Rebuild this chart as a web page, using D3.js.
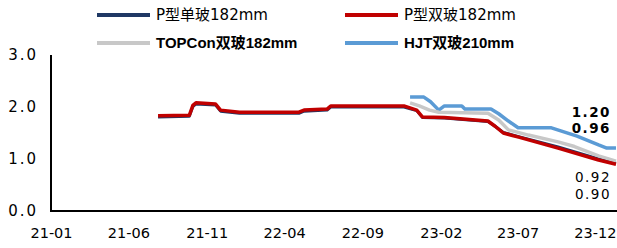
<!DOCTYPE html>
<html><head><meta charset="utf-8">
<script src="https://cdn.jsdelivr.net/npm/d3@7"></script>
<style>
html,body{margin:0;padding:0;background:#fff;}
svg{display:block;font-family:"DejaVu Sans","Noto Sans CJK SC",sans-serif;}
</style></head>
<body><svg id="c" width="617" height="248"></svg>
<script>
const tickLabels = ["2021-01-01","2021-06-01","2021-11-01","2022-04-01","2022-09-01","2023-02-01","2023-07-01","2023-12-01"];
const yTicks = [0, 1, 2, 3];
const seriesNames = ["P型单玻182mm","P型双玻182mm","TOPCon双玻182mm","HJT双玻210mm"];
const seriesColors = ["#1f3864","#c00000","#c8c8c8","#5b9bd5"];

const pMonoDates = ["2021-07-29","2021-09-28","2021-10-05","2021-10-11","2021-11-18","2021-11-28","2022-01-04","2022-04-30","2022-05-10","2022-06-24","2022-07-01","2022-11-21","2022-12-16","2022-12-27","2023-02-08","2023-05-04","2023-05-18","2023-06-03","2023-07-03","2023-09-18","2023-12-06","2024-01-09"];
const pMonoValues = [1.81,1.82,2.01,2.06,2.04,1.92,1.88,1.88,1.92,1.94,2.00,2.00,1.93,1.80,1.79,1.72,1.63,1.51,1.43,1.23,1.00,0.92];

const pBiDates = pMonoDates;
const pBiValues = [1.83,1.84,2.03,2.08,2.06,1.94,1.90,1.90,1.94,1.96,2.02,2.02,1.94,1.81,1.80,1.73,1.63,1.50,1.42,1.21,0.98,0.90];

const topconDates = ["2022-12-03","2022-12-21","2023-01-10","2023-01-28","2023-05-04","2023-05-25","2023-06-13","2023-07-22","2023-09-18","2023-10-20","2023-12-06","2024-01-09"];
const topconValues = [2.08,2.02,1.94,1.90,1.88,1.75,1.56,1.46,1.33,1.24,1.06,0.96];

const hjtDates = ["2022-12-03","2022-12-30","2023-01-12","2023-01-28","2023-02-08","2023-03-14","2023-03-20","2023-05-10","2023-05-25","2023-06-13","2023-07-02","2023-09-05","2023-10-25","2023-12-06","2023-12-22","2024-01-09"];
const hjtValues = [2.19,2.19,2.10,1.94,2.02,2.02,1.96,1.96,1.87,1.73,1.60,1.60,1.44,1.27,1.21,1.21];

const endLabels = ["1.20","0.96","0.92","0.90"];

const parse = d3.timeParse("%Y-%m-%d");
const svg = d3.select("#c");

const x = d3.scaleTime().domain([parse("2021-01-01"), parse("2023-12-01")]).range([51, 596]);
const y = d3.scaleLinear().domain([0, 3]).range([211, 55]);

const series = [
  {dates: pMonoDates, values: pMonoValues},
  {dates: pBiDates, values: pBiValues},
  {dates: topconDates, values: topconValues},
  {dates: hjtDates, values: hjtValues}
].map((s, i) => ({name: seriesNames[i], color: seriesColors[i],
  pts: s.dates.map((d, j) => ({d: parse(d), v: s.values[j]}))}));

const line = d3.line().x(p => x(p.d)).y(p => y(p.v));
const drawOrder = [0, 3, 2, 1];
svg.append("defs").append("clipPath").attr("id","clip").append("rect")
  .attr("x", 51).attr("y", 40).attr("width", 566).attr("height", 180);
const g = svg.append("g").attr("clip-path","url(#clip)");
drawOrder.forEach(i => {
  g.append("path").datum(series[i].pts).attr("d", line)
    .attr("fill","none").attr("stroke", series[i].color)
    .attr("stroke-width", i === 0 ? 3 : 3.5).attr("stroke-linejoin","round");
});

// axes
const xAxis = d3.axisBottom(x).tickValues(tickLabels.map(parse))
  .tickFormat(d3.timeFormat("%y-%m")).tickSize(0).tickPadding(17);
const gx = svg.append("g").attr("transform","translate(0,211)").call(xAxis);
gx.select(".domain").remove();
gx.selectAll("text").attr("font-size", 14.5).attr("fill","#000")
  .attr("font-family","'DejaVu Sans', sans-serif");
gx.selectAll(".tick:last-of-type text").attr("text-anchor","end").attr("x", 20);
svg.append("line").attr("x1", 51).attr("x2", 617).attr("y1", 211).attr("y2", 211)
  .attr("stroke","#000").attr("stroke-width", 2);

const yAxis = d3.axisLeft(y).tickValues(yTicks).tickFormat(d3.format(".1f")).tickSize(0).tickPadding(13);
const gy = svg.append("g").attr("transform","translate(51,0)").call(yAxis);
gy.select(".domain").remove();
gy.selectAll("text").attr("font-size", 15).attr("fill","#000").attr("letter-spacing", 2)
  .attr("font-family","'DejaVu Sans', sans-serif");
svg.append("line").attr("x1", 51).attr("x2", 51).attr("y1", 55).attr("y2", 212)
  .attr("stroke","#000").attr("stroke-width", 2);

// end labels
const endLabelY = [112, 128, 177, 194];
endLabels.forEach((t, i) => {
  svg.append("text").attr("x", 611).attr("y", endLabelY[i]).attr("dy","0.35em")
    .attr("text-anchor","end").attr("font-size", 13.5).attr("letter-spacing", 1.5)
    .attr("fill","#000").attr("font-weight", i < 2 ? "bold" : "normal").text(t);
});

// legend
const legendPos = [[97,15],[345,15],[97,43],[345,43]];
series.forEach((s, i) => {
  const [lx, ly] = legendPos[i];
  svg.append("line").attr("x1", lx).attr("x2", lx + 53).attr("y1", ly).attr("y2", ly)
    .attr("stroke", s.color).attr("stroke-width", 4);
  svg.append("text").attr("x", lx + 59).attr("y", ly).attr("dy","0.35em")
    .attr("font-size", 15).attr("fill","#000")
    .attr("font-weight", i >= 2 ? "bold" : "normal")
    .attr("font-family", i >= 2 ? "'Liberation Sans','Noto Sans CJK SC',sans-serif" : "'DejaVu Sans','Noto Sans CJK SC',sans-serif")
    .text(s.name);
});
</script></body></html>
